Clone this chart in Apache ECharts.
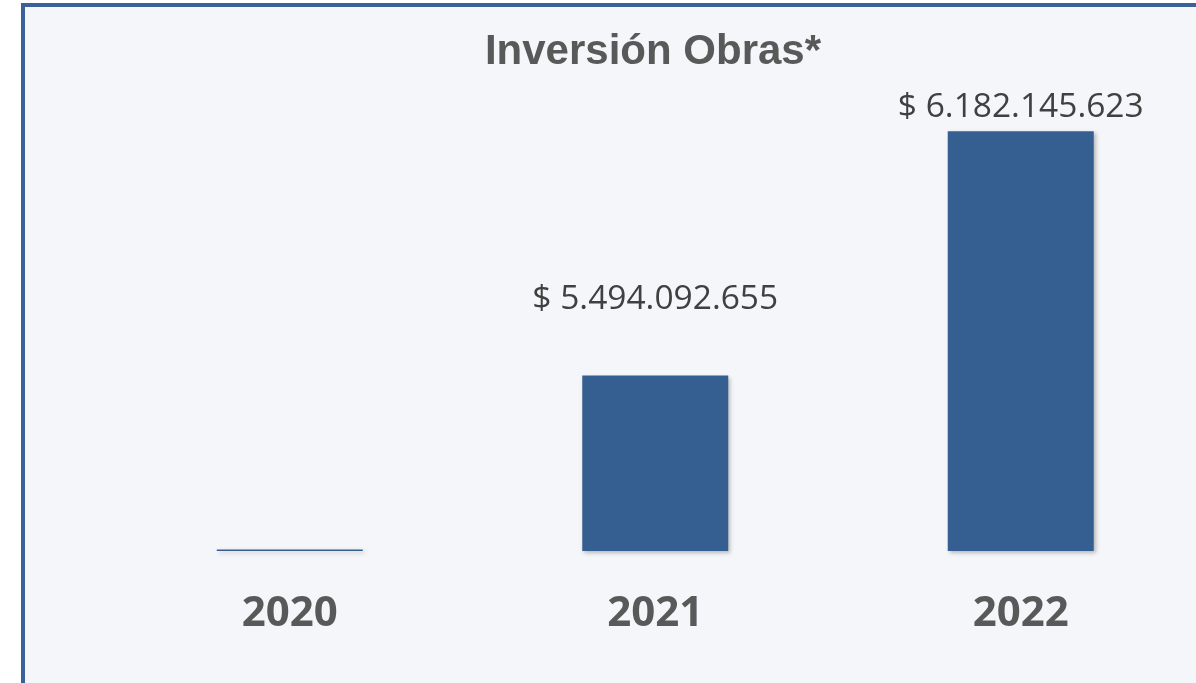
<!DOCTYPE html>
<html>
<head>
    <meta charset="UTF-8">
    <title>Inversión Obras</title>
    <script src="https://cdn.jsdelivr.net/npm/echarts@6/dist/echarts.min.js"></script>
    <style>
        html, body { margin: 0; padding: 0; background: #ffffff; overflow: hidden; }
        #chart {
            position: absolute; left: 21px; top: 3px;
            width: 1220px; height: 720px;
            border: 4px solid #3a6298;
            background: #f5f6f9;
        }
    </style>
</head>
<body>
    <div id="chart"></div>
    <script>
        var years = ['2020', '2021', '2022'];
        // 2020 shows only as a hairline at the baseline
        var inversion = [5004000000, 5494092655, 6182145623];
        var showLabel = [false, true, true];

        function formatPesos(v) {
            return '$ ' + String(v).replace(/\B(?=(\d{3})+(?!\d))/g, '.');
        }

        var chart = echarts.init(document.getElementById('chart'), null, {renderer: 'canvas'});

        // labels were placed by hand in the original, so each bar gets its own gap
        var labelDistance = [0, 59, 7];

        chart.setOption({
            animation: false,
            title: {
                text: 'Inversión Obras*',
                left: 623,
                textAlign: 'center',
                top: 19,
                textStyle: {
                    fontFamily: 'Liberation Sans',
                    fontWeight: 'bold',
                    fontSize: 42,
                    color: '#595959'
                }
            },
            grid: { left: 82, top: 47, width: 1096.5, bottom: 176 },
            xAxis: {
                type: 'category',
                data: years,
                axisLine: { show: false },
                axisTick: { show: false },
                axisLabel: {
                    margin: 42,
                    fontFamily: 'Open Sans',
                    fontWeight: 'bold',
                    fontSize: 42,
                    color: '#595959'
                }
            },
            yAxis: {
                type: 'value',
                min: 5000000000,
                max: 6400000000,
                show: false,
                splitLine: { show: false }
            },
            series: [{
                type: 'bar',
                barWidth: 146,
                data: inversion.map(function (v, i) {
                    return {
                        value: v,
                        label: { show: showLabel[i], distance: labelDistance[i] }
                    };
                }),
                itemStyle: {
                    color: '#355f91',
                    shadowBlur: 4,
                    shadowColor: 'rgba(0,0,0,0.25)',
                    shadowOffsetX: 2,
                    shadowOffsetY: 2
                },
                label: {
                    position: 'top',
                    fontFamily: 'Open Sans',
                    fontSize: 33.5,
                    color: '#404040',
                    formatter: function (p) { return formatPesos(p.value); }
                }
            }]
        });
    </script>
</body>
</html>
